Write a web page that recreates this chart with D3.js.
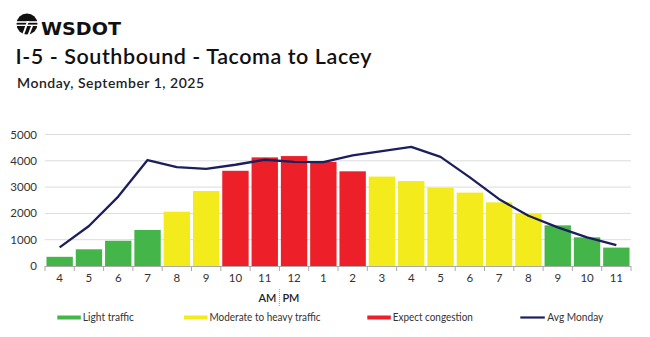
<!DOCTYPE html>
<html><head><meta charset="utf-8">
<script src="https://cdn.jsdelivr.net/npm/d3@7"></script>
<style>
html,body{margin:0;padding:0;background:#fff;}
svg{display:block;font-family:Lato,"Open Sans",sans-serif;}
</style></head>
<body>
<svg id="chart" width="650" height="337"></svg>
<script>
const hours = ["4","5","6","7","8","9","10","11","12","1","2","3","4","5","6","7","8","9","10","11"];
const volumes = [350,635,960,1370,2065,2850,3620,4130,4180,3960,3600,3400,3230,2980,2790,2420,1990,1545,1090,700];
const levels = ["light","light","light","light","moderate","moderate","heavy","heavy","heavy","heavy","heavy","moderate","moderate","moderate","moderate","moderate","moderate","light","light","light"];
const avgMonday = [710,1520,2640,4030,3760,3690,3850,4040,3960,3950,4210,4370,4530,4150,3370,2540,1910,1470,1090,790];
const yTicks = [0,1000,2000,3000,4000,5000];
const legendItems = [
  {key:"light", label:"Light traffic"},
  {key:"moderate", label:"Moderate to heavy traffic"},
  {key:"heavy", label:"Expect congestion"},
  {key:"avg", label:"Avg Monday"}
];
const colors = {light:"#44b649", moderate:"#f3eb1c", heavy:"#ed1f28", avg:"#1b1f5c"};

const svg = d3.select("#chart");
const idx = d3.range(hours.length);
const x = d3.scaleBand().domain(idx).range([45, 631]).paddingInner(0.1).paddingOuter(0.05);
const y = d3.scaleLinear().domain([0,5000]).range([266, 134.5]);

// logo
const logo = svg.append("g");
logo.append("circle").attr("cx",27).attr("cy",24).attr("r",10.5).attr("fill","#111");
logo.append("rect").attr("x",16).attr("y",21.2).attr("width",22).attr("height",1.6).attr("fill","#fff");
logo.append("rect").attr("x",16).attr("y",24.6).attr("width",22).attr("height",1.4).attr("fill","#fff");
logo.append("path").attr("d","M27 21 L22 35 L24 35 L29 21 Z").attr("fill","#fff");
logo.append("path").attr("d","M31 26 L27.5 35 L29.5 35 L33 26 Z").attr("fill","#fff");
logo.append("text").attr("x",41).attr("y",34.5).attr("font-family","'DejaVu Sans',sans-serif")
  .attr("font-weight",900).attr("font-size",18.5).attr("textLength",80).attr("lengthAdjust","spacingAndGlyphs")
  .attr("fill","#111").text("WSDOT");

svg.append("text").attr("x",15.5).attr("y",63.5).attr("font-size",21.5).attr("font-weight",600)
  .attr("fill","#111").attr("textLength",356).attr("lengthAdjust","spacing")
  .text("I-5 - Southbound - Tacoma to Lacey");
svg.append("text").attr("x",17).attr("y",87.5).attr("font-size",14).attr("font-weight",600)
  .attr("fill","#222").attr("textLength",187).attr("lengthAdjust","spacing")
  .text("Monday, September 1, 2025");

// grid
svg.append("g").selectAll("line").data(yTicks.slice(1)).join("line")
  .attr("x1",45).attr("x2",631).attr("y1",d=>y(d)).attr("y2",d=>y(d))
  .attr("stroke","#dcdcdc").attr("stroke-width",1);

// y axis labels
svg.append("g").selectAll("text").data(yTicks).join("text")
  .attr("x",37).attr("y",d=>y(d)+4).attr("text-anchor","end").attr("font-size",11.5).attr("fill","#333")
  .text(d=>d);

// bars
svg.append("g").selectAll("rect").data(idx).join("rect")
  .attr("x",i=>x(i)).attr("width",x.bandwidth())
  .attr("y",i=>y(volumes[i])).attr("height",i=>y(0)-y(volumes[i]))
  .attr("fill",i=>colors[levels[i]]);

// x axis
const step = x.step();
svg.append("line").attr("x1",45).attr("x2",631).attr("y1",266.5).attr("y2",266.5).attr("stroke","#aaa");
svg.append("g").selectAll("line").data(d3.range(hours.length+1)).join("line")
  .attr("x1",i=>45+i*step).attr("x2",i=>45+i*step).attr("y1",266).attr("y2",271).attr("stroke","#aaa");
svg.append("g").selectAll("text").data(idx).join("text")
  .attr("x",i=>x(i)+x.bandwidth()/2).attr("y",282).attr("text-anchor","middle")
  .attr("font-size",11.5).attr("fill","#333").text(i=>hours[i]);

// AM | PM
const sep = 45 + 8*step;
svg.append("line").attr("x1",sep).attr("x2",sep).attr("y1",289).attr("y2",306)
  .attr("stroke","#999").attr("stroke-dasharray","1,1");
svg.append("text").attr("x",sep-3).attr("y",302).attr("text-anchor","end").attr("font-size",11).attr("font-weight",600).attr("fill","#222").text("AM");
svg.append("text").attr("x",sep+3).attr("y",302).attr("text-anchor","start").attr("font-size",11).attr("font-weight",600).attr("fill","#222").text("PM");

// line
const line = d3.line().x(i=>x(i)+x.bandwidth()/2).y(i=>y(avgMonday[i]));
svg.append("path").datum(idx).attr("d",line).attr("fill","none")
  .attr("stroke",colors.avg).attr("stroke-width",2.3).attr("stroke-linejoin","round");

// legend
const legX = [57.3,184,367.3,520.3];
const legW = [51,111,80,56];
const lg = svg.append("g");
legendItems.forEach((d,k)=>{
  if(d.key==="avg"){
    lg.append("line").attr("x1",legX[k]).attr("x2",legX[k]+24.5).attr("y1",317.5).attr("y2",317.5)
      .attr("stroke",colors.avg).attr("stroke-width",2.2);
  } else {
    lg.append("rect").attr("x",legX[k]).attr("y",315.5).attr("width",23.5).attr("height",4).attr("fill",colors[d.key]);
  }
  lg.append("text").attr("x",legX[k]+(d.key==="avg"?27:25.5)).attr("y",321).attr("font-size",11)
    .attr("textLength",legW[k]).attr("lengthAdjust","spacingAndGlyphs")
    .attr("fill","#333").text(d.label);
});
</script>
</body></html>
